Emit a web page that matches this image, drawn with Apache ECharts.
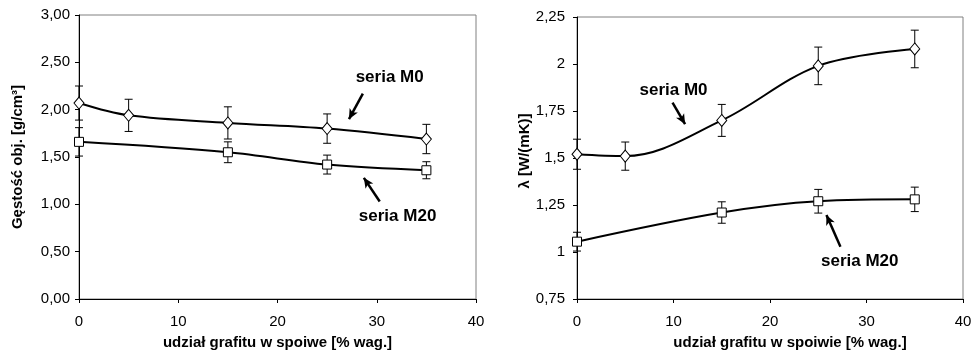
<!DOCTYPE html>
<html>
<head>
<meta charset="utf-8">
<script src="https://cdn.jsdelivr.net/npm/echarts@6/dist/echarts.min.js"></script>
<style>
  html, body { margin: 0; padding: 0; background: #fff; }
  #chart { width: 974px; height: 350px; }
</style>
</head>
<body>
<div id="chart"></div>
<script>
// left: bulk density, right: thermal conductivity
const xM0 = [0, 5, 15, 25, 35];
const xM20 = [0, 15, 25, 35];

const densM0 = [2.07, 1.94, 1.86, 1.80, 1.69];
const densM0Err = [0.18, 0.17, 0.17, 0.155, 0.155];
const densM20 = [1.66, 1.55, 1.42, 1.36];
const densM20Err = [0.15, 0.11, 0.10, 0.09];

const lamM0 = [1.52, 1.51, 1.70, 1.99, 2.08];
const lamM0Err = [0.08, 0.075, 0.085, 0.10, 0.10];
const lamM20 = [1.055, 1.21, 1.27, 1.28];
const lamM20Err = [0.05, 0.057, 0.063, 0.065];

const FONT = "Liberation Sans, Arial, sans-serif";

const pairs = (xs, ys) => xs.map((x, i) => [x, ys[i]]);
const errRows = (xs, ys, es) => xs.map((x, i) => [x, ys[i] - es[i], ys[i] + es[i]]);

function errorBars(idx, rows) {
  return {
    type: "custom",
    xAxisIndex: idx,
    yAxisIndex: idx,
    data: rows,
    z: 1,
    silent: true,
    renderItem: (params, api) => {
      const lo = api.coord([api.value(0), api.value(1)]);
      const hi = api.coord([api.value(0), api.value(2)]);
      const cap = 4;
      const style = { stroke: "#000", lineWidth: 1 };
      return {
        type: "group",
        children: [
          { type: "line", shape: { x1: lo[0], y1: lo[1], x2: hi[0], y2: hi[1] }, style },
          { type: "line", shape: { x1: lo[0] - cap, y1: lo[1], x2: lo[0] + cap, y2: lo[1] }, style },
          { type: "line", shape: { x1: hi[0] - cap, y1: hi[1], x2: hi[0] + cap, y2: hi[1] }, style },
        ],
      };
    },
  };
}

function arrowNote(text, labelAt, from, to) {
  return {
    markLine: {
      silent: true,
      symbol: ["none", "arrow"],
      symbolSize: [7, 10],
      lineStyle: { color: "#000", width: 2.5, type: "solid" },
      label: { show: false },
      data: [[{ coord: from }, { coord: to }]],
    },
    markPoint: {
      silent: true,
      symbol: "rect",
      symbolSize: 0,
      data: [{ coord: labelAt }],
      label: {
        show: true,
        position: "inside",
        formatter: text,
        color: "#000",
        fontFamily: FONT,
        fontWeight: "bold",
        fontSize: 17,
      },
    },
  };
}

function lineSeries(idx, data, symbol, size, note) {
  return Object.assign({
    type: "line",
    xAxisIndex: idx,
    yAxisIndex: idx,
    data,
    smooth: 0.35,
    z: 3,
    symbol,
    symbolSize: size,
    showAllSymbol: true,
    lineStyle: { color: "#000", width: 2 },
    itemStyle: { color: "#fff", borderColor: "#000", borderWidth: 1 },
  }, note);
}

const axisLabel = { color: "#000", fontFamily: FONT, fontSize: 15 };
const axisName = { color: "#000", fontFamily: FONT, fontWeight: "bold", fontSize: 15 };

function xAxis(idx, namePad) {
  return {
    type: "value",
    gridIndex: idx,
    min: 0,
    max: 40,
    interval: 10,
    name: idx === 0 ? "udział grafitu w spoiwe [% wag.]" : "udział grafitu w spoiwie [% wag.]",
    nameLocation: "middle",
    nameGap: 36,
    nameTextStyle: Object.assign({ padding: namePad }, axisName),
    axisLine: { show: true, lineStyle: { color: "#000", width: 1 } },
    axisTick: { show: true, length: 4, lineStyle: { color: "#000" } },
    axisLabel: Object.assign({ margin: 15 }, axisLabel),
    splitLine: { show: false },
  };
}

const chart = echarts.init(document.getElementById("chart"), null, { renderer: "canvas" });
chart.setOption({
  animation: false,
  backgroundColor: "#fff",
  grid: [
    { left: 79, top: 15, width: 397, height: 284, outerBoundsMode: "none", containLabel: false,
      show: true, borderColor: "#808080", borderWidth: 1 },
    { left: 577, top: 17, width: 386, height: 282, outerBoundsMode: "none", containLabel: false,
      show: true, borderColor: "#808080", borderWidth: 1 },
  ],
  xAxis: [xAxis(0, [0, 0, 0, 0]), xAxis(1, [0, 0, 0, 40])],
  yAxis: [
    {
      type: "value",
      gridIndex: 0,
      min: 0,
      max: 3,
      interval: 0.5,
      name: "Gęstość obj. [g/cm³]",
      nameLocation: "middle",
      nameGap: 54,
      nameTextStyle: axisName,
      axisLine: { show: true, lineStyle: { color: "#000" } },
      axisTick: { show: true, length: 4, lineStyle: { color: "#000" } },
      axisLabel: Object.assign({ margin: 9, formatter: (v) => v.toFixed(2).replace(".", ",") }, axisLabel),
      splitLine: { show: false },
    },
    {
      type: "value",
      gridIndex: 1,
      min: 0.75,
      max: 2.25,
      interval: 0.25,
      name: "λ [W/(mK)]",
      nameLocation: "middle",
      nameGap: 44,
      nameTextStyle: Object.assign({ padding: [0, 0, 0, 14] }, axisName),
      axisLine: { show: true, lineStyle: { color: "#000" } },
      axisTick: { show: true, length: 4, lineStyle: { color: "#000" } },
      axisLabel: Object.assign({ margin: 12, formatter: (v) => String(v).replace(".", ",") }, axisLabel),
      splitLine: { show: false },
    },
  ],
  series: [
    errorBars(0, errRows(xM0, densM0, densM0Err)),
    errorBars(0, errRows(xM20, densM20, densM20Err)),
    errorBars(1, errRows(xM0, lamM0, lamM0Err)),
    errorBars(1, errRows(xM20, lamM20, lamM20Err)),
    lineSeries(0, pairs(xM0, densM0), "diamond", [10, 12],
      arrowNote("seria M0", [31.3, 2.34], [28.6, 2.17], [27.2, 1.9])),
    lineSeries(0, pairs(xM20, densM20), "rect", 9,
      arrowNote("seria M20", [32.1, 0.87], [30.3, 1.03], [28.7, 1.28])),
    lineSeries(1, pairs(xM0, lamM0), "diamond", [10, 12],
      arrowNote("seria M0", [10.0, 1.86], [9.9, 1.795], [11.2, 1.68])),
    lineSeries(1, pairs(xM20, lamM20), "rect", 9,
      arrowNote("seria M20", [29.3, 0.952], [27.3, 1.028], [25.85, 1.197])),
  ],
});
</script>
</body>
</html>
